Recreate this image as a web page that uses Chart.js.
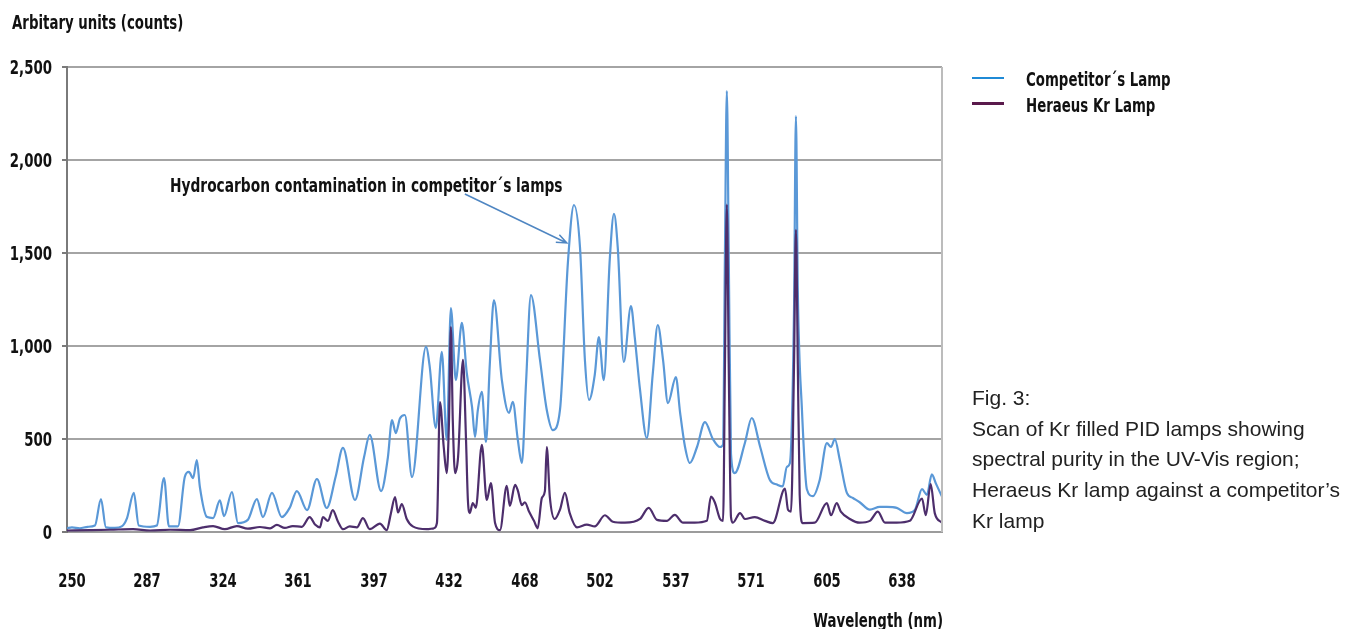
<!DOCTYPE html>
<html>
<head>
<meta charset="utf-8">
<title>Kr PID lamp spectrum</title>
<script src="https://cdn.jsdelivr.net/npm/chart.js@4.4.1/dist/chart.umd.min.js"></script>
<style>
  body { margin: 0; background: #fff; }
  #wrap { position: relative; width: 1362px; height: 629px; overflow: hidden; }
  #chart { position: absolute; left: 0; top: 0; }
  /* the original uses a condensed bold face; DejaVu Condensed squeezed a bit more */
  .b {
    position: absolute;
    font-family: "Liberation Sans Narrow", "DejaVu Sans Condensed", sans-serif;
    font-weight: bold;
    font-size: 19.5px;
    line-height: 1;
    color: #111;
    white-space: nowrap;
    transform-origin: 0 0;
    transform: scaleX(0.76);
  }
  .b.right { transform: scaleX(0.76) translateX(-100%); }
  .b.center { transform: scaleX(0.75) translateX(-50%); }
  .b.tick-y { transform: scaleX(0.76) translateX(-100%); }
  .key { position: absolute; left: 972px; width: 32px; height: 2.5px; }
  #caption {
    position: absolute;
    left: 972px;
    top: 383px;
    font-family: "Liberation Sans", Arial, sans-serif;
    font-size: 21px;
    line-height: 30.7px;
    color: #222;
  }
</style>
</head>
<body>
<div id="wrap">
  <canvas id="chart" width="1362" height="629"></canvas>

  <div class="b" style="left:12px; top:12.8px;">Arbitary units (counts)</div>

  <div class="key" style="top:76.5px; background:#1f8ad6;"></div>
  <div class="b" style="left:1026px; top:70.2px;">Competitor´s Lamp</div>
  <div class="key" style="top:102px; background:#5a1a4c;"></div>
  <div class="b" style="left:1026px; top:96.2px;">Heraeus Kr Lamp</div>

  <div class="b" style="left:170px; top:175.5px; transform:scaleX(0.785);">Hydrocarbon contamination in competitor´s lamps</div>

  <div class="b right" style="left:943px; top:610.5px;">Wavelength (nm)</div>

  <div id="caption">
    Fig. 3:<br>
    Scan of Kr filled PID lamps showing<br>
    spectral purity in the UV-Vis region;<br>
    Heraeus Kr lamp against a competitor’s<br>
    Kr lamp
  </div>
</div>

<script>
/* ================= DATA ================= */

// x axis: spectrometer channel, a wavelength label every 20 channels
const tickLabels = [250, 287, 324, 361, 397, 432, 468, 502, 537, 571, 605, 638];
const channelsPerTick = 20;

// Competitor's lamp
const compChannel = [-1.3,0,2.1,4.2,6.1,7.7,9.0,11.4,13.2,14.6,
  16.4,17.7,20.7,22.5,24.4,25.7,28.1,29.9,31.0,32.1,
  33.1,33.9,35.8,37.4,39.2,40.3,42.4,44.0,46.6,49.0,
  50.6,53.0,55.6,57.7,59.6,62.3,64.9,67.5,69.9,71.8,
  75.0,77.4,78.9,81.9,83.7,84.8,85.8,86.9,88.2,90.1,
  93.8,94.8,96.4,98.0,99.3,100.4,101.7,103.3,104.6,106.0,
  106.8,107.5,108.6,109.7,110.7,111.8,113.9,115.8,116.8,118.1,
  119.2,120.3,121.6,124.0,125.8,127.4,129.3,131.4,133.0,134.6,
  135.9,137.0,138.5,139.6,140.9,142.5,143.6,144.6,146.2,148.1,
  149.1,150.5,152.3,153.9,155.2,156.6,157.9,160.0,161.1,162.4,
  163.7,165.6,167.7,169.8,171.7,172.5,173.0,173.5,174.0,174.6,
  175.6,178.3,180.1,182.3,184.9,186.8,188.3,189.4,190.2,191.3,
  191.8,192.3,193.4,194.7,196.3,198.1,200.0,201.1,202.1,203.4,
  205.3,206.9,208.7,211.4,214.0,215.9,218.5,221.2,223.3,225.2,
  226.5,227.8,228.9,230.5];
const compCounts = [20,25,20,28,35,177,25,22,30,75,
  210,35,28,35,290,30,30,296,323,290,
  387,242,80,75,170,85,215,48,65,177,
  80,210,80,130,220,118,285,129,300,452,
  172,403,522,220,400,602,532,610,629,296,
  995,887,559,968,495,1204,817,1124,855,672,
  511,650,753,484,900,1247,817,640,700,500,
  371,800,1274,925,656,548,656,1450,1758,1530,
  925,710,843,1048,817,1470,1710,1530,914,1215,
  1048,765,505,855,1113,925,693,833,645,460,
  371,457,591,500,457,470,1500,2371,1500,420,
  317,480,613,460,280,255,245,350,370,1200,
  2236,1300,656,230,193,280,478,457,500,390,
  210,183,160,120,135,135,130,102,118,230,
  200,310,260,190];

// Heraeus Kr lamp
const krChannel = [-1.3,4.8,10.1,16.2,20.7,26.0,31.3,34.7,37.4,40.5,
  43.7,46.6,49.8,52.5,54.3,56.4,58.5,60.9,63.0,64.4,
  65.7,66.5,67.8,69.1,70.5,71.8,73.6,75.5,77.1,78.9,
  81.6,83.4,84.5,85.6,86.4,87.4,88.7,90.3,94.0,95.9,
  96.7,97.5,98.5,99.3,99.9,100.4,100.9,101.5,102.3,103.6,
  104.4,104.9,105.4,106.2,107.0,108.6,109.9,111.0,112.1,113.4,
  115.2,116.0,117.4,118.1,119.2,120.0,121.1,122.4,123.4,124.5,
  125.3,125.8,126.6,127.9,129.3,130.6,131.9,133.8,136.4,138.5,
  141.2,143.3,146.5,150.5,152.8,155.0,157.6,159.7,161.9,165.0,
  168.2,169.3,170.3,171.7,172.5,173.0,173.5,174.0,174.6,175.1,
  177.0,178.3,180.9,183.6,185.7,188.9,189.7,190.5,191.3,191.8,
  192.3,192.8,193.6,196.8,200.0,201.1,202.6,203.7,206.1,208.7,
  211.4,213.5,215.4,218.5,222.0,225.2,226.2,227.5,228.6,230.5];
const krCounts = [8,10,12,15,8,12,10,25,32,15,
  32,18,27,20,38,22,32,28,80,40,
  25,80,60,118,55,15,30,25,75,15,
  45,10,100,188,105,150,70,30,15,20,
  48,699,457,317,600,1102,600,317,403,925,
  500,172,102,156,130,468,172,263,48,10,
  248,140,253,225,145,160,110,60,20,183,
  220,457,190,70,120,210,100,25,40,30,
  90,55,50,70,130,65,60,92,50,50,
  60,190,160,70,60,900,1760,900,80,50,
  102,70,80,60,48,233,120,110,900,1624,
  900,200,48,50,155,90,155,110,70,50,
  60,110,50,50,60,180,90,258,100,50];

// annotation arrow, [channel, counts]
const arrowFrom = [104.1, 1817];
const arrowTo = [131.1, 1554];

/* ================= CHART ================= */

function toPoints(xs, ys) {
    return xs.map((x, i) => ({ x: x, y: ys[i] }));
}

const extras = {
    id: "extras",
    afterDatasetsDraw(chart) {
        const { ctx, chartArea, scales } = chart;
        ctx.save();

        // right frame line
        ctx.strokeStyle = "#bcbcbc";
        ctx.lineWidth = 2;
        ctx.beginPath();
        ctx.moveTo(chartArea.right, chartArea.top);
        ctx.lineTo(chartArea.right, chartArea.bottom);
        ctx.stroke();

        // arrow to the hydrocarbon bands
        const x1 = scales.x.getPixelForValue(arrowFrom[0]);
        const y1 = scales.y.getPixelForValue(arrowFrom[1]);
        const x2 = scales.x.getPixelForValue(arrowTo[0]);
        const y2 = scales.y.getPixelForValue(arrowTo[1]);
        const a = Math.atan2(y2 - y1, x2 - x1);
        ctx.strokeStyle = "#4f86c2";
        ctx.lineWidth = 1.5;
        ctx.beginPath();
        ctx.moveTo(x1, y1);
        ctx.lineTo(x2, y2);
        ctx.moveTo(x2 - 11 * Math.cos(a - 0.38), y2 - 11 * Math.sin(a - 0.38));
        ctx.lineTo(x2, y2);
        ctx.lineTo(x2 - 11 * Math.cos(a + 0.38), y2 - 11 * Math.sin(a + 0.38));
        ctx.stroke();

        ctx.restore();
    }
};

const chart = new Chart(document.getElementById("chart").getContext("2d"), {
    type: "line",
    data: {
        datasets: [{
            label: "Competitor´s Lamp",
            data: toPoints(compChannel, compCounts),
            borderColor: "#5a98d7",
            borderWidth: 2.2,
            pointRadius: 0,
            cubicInterpolationMode: "monotone",
            order: 1
        }, {
            label: "Heraeus Kr Lamp",
            data: toPoints(krChannel, krCounts),
            borderColor: "#4d2e6c",
            borderWidth: 2.2,
            pointRadius: 0,
            cubicInterpolationMode: "monotone",
            order: 0
        }]
    },
    options: {
        responsive: false,
        animation: false,
        layout: { padding: { left: 0, right: 420, top: 67, bottom: 0 } },
        plugins: {
            legend: { display: false },
            tooltip: { enabled: false }
        },
        scales: {
            x: {
                type: "linear",
                min: -1.3,
                max: 230.5,
                afterBuildTicks: scale => {
                    scale.ticks = tickLabels.map((l, i) => ({ value: i * channelsPerTick }));
                },
                afterFit: scale => { scale.height = 97; },
                grid: { display: false, drawTicks: false },
                border: { display: true, color: "#9c9c9c", width: 2 },
                ticks: { display: false }
            },
            y: {
                min: 0,
                max: 2500,
                afterFit: scale => { scale.width = 67; },
                grid: { color: "#a4a4a4", lineWidth: 2, tickLength: 5, tickColor: "#7a7a7a" },
                border: { color: "#7a7a7a", width: 2 },
                ticks: { stepSize: 500, display: false }
            }
        }
    },
    plugins: [extras]
});

/* ================= TICK LABELS (condensed text, placed by the scales) ================= */

const wrap = document.getElementById("wrap");

function addLabel(text, left, top, cls) {
    const d = document.createElement("div");
    d.className = "b " + cls;
    d.textContent = text;
    d.style.left = left + "px";
    d.style.top = top + "px";
    wrap.appendChild(d);
}

chart.scales.x.ticks.forEach((t, i) => {
    addLabel(tickLabels[i], chart.scales.x.getPixelForValue(t.value), 570.8, "center");
});

chart.scales.y.ticks.forEach(t => {
    const y = chart.scales.y.getPixelForValue(t.value);
    addLabel(t.value.toLocaleString("en-US"), 52, y - 9.5, "tick-y");
});
</script>
</body>
</html>
